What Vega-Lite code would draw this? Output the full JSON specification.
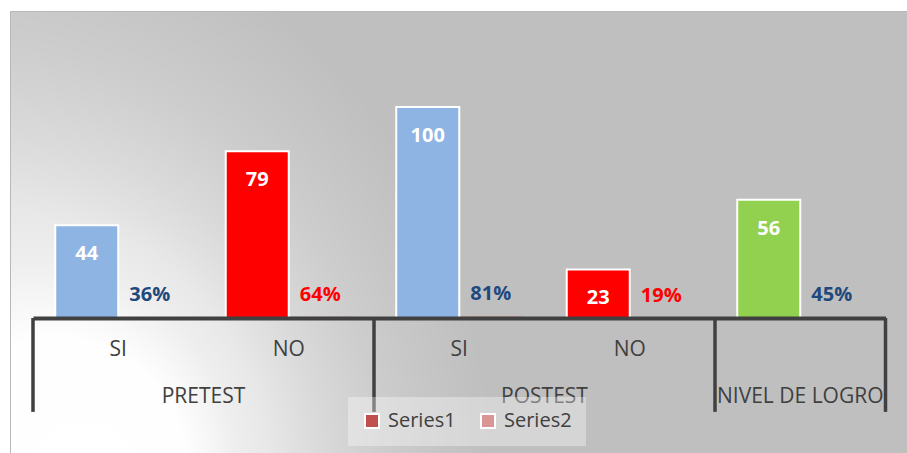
{
  "$schema": "https://vega.github.io/schema/vega-lite/v6.json",
  "width": 897,
  "height": 442,
  "autosize": {"type": "none"},
  "padding": {"left": 10, "top": 11, "right": 0, "bottom": 0},
  "background": "white",
  "config": {
    "view": {
      "fill": {"gradient": "radial", "x1": 0.1003, "y1": 0.7664, "r1": 0, "x2": -0.1338, "y2": 0.7664, "r2": 0.669,
        "stops": [
          {"offset": 0, "color": "#ffffff"},
          {"offset": 0.22, "color": "#fefefe"},
          {"offset": 0.28, "color": "#f7f7f7"},
          {"offset": 0.35, "color": "#eeeeee"},
          {"offset": 0.43, "color": "#e8e8e8"},
          {"offset": 0.5, "color": "#e0e0e0"},
          {"offset": 0.56, "color": "#dadada"},
          {"offset": 0.63, "color": "#d4d4d4"},
          {"offset": 0.72, "color": "#cdcdcd"},
          {"offset": 0.83, "color": "#c7c7c7"},
          {"offset": 1, "color": "#bfbfbf"}
        ]},
      "stroke": "#b8b8b8"
    },
    "font": "Open Sans",
    "legend": {
      "orient": "none",
      "legendX": 338,
      "legendY": 386,
      "direction": "horizontal",
      "fillColor": "rgba(255,255,255,0.35)",
      "padding": 14,
      "labelFont": "Open Sans",
      "labelFontSize": 20,
      "labelColor": "#404040",
      "symbolType": "square",
      "symbolSize": 196,
      "symbolStrokeColor": "white",
      "symbolStrokeWidth": 2,
      "columnPadding": 21,
      "labelOffset": 6
    }
  },
  "data": {"values": [
    {"group": "PRETEST", "cat": "SI", "slot": "PRETEST SI", "series": "Series1", "value": 44},
    {"group": "PRETEST", "cat": "NO", "slot": "PRETEST NO", "series": "Series1", "value": 79},
    {"group": "POSTEST", "cat": "SI", "slot": "POSTEST SI", "series": "Series1", "value": 100},
    {"group": "POSTEST", "cat": "NO", "slot": "POSTEST NO", "series": "Series1", "value": 23},
    {"group": "NIVEL DE LOGRO", "cat": "", "slot": "NIVEL DE LOGRO", "series": "Series1", "value": 56},
    {"group": "PRETEST", "cat": "SI", "slot": "PRETEST SI", "series": "Series2", "value": 0.36},
    {"group": "PRETEST", "cat": "NO", "slot": "PRETEST NO", "series": "Series2", "value": 0.64},
    {"group": "POSTEST", "cat": "SI", "slot": "POSTEST SI", "series": "Series2", "value": 0.81},
    {"group": "POSTEST", "cat": "NO", "slot": "POSTEST NO", "series": "Series2", "value": 0.19},
    {"group": "NIVEL DE LOGRO", "cat": "", "slot": "NIVEL DE LOGRO", "series": "Series2", "value": 0.45}
  ]},
  "layer": [
    {
      "transform": [{"filter": "datum.series == 'Series2'"}],
      "mark": {"type": "bar"},
      "encoding": {
        "x": {"field": "slot", "type": "nominal",
          "scale": {"domain": ["PRETEST SI", "PRETEST NO", "POSTEST SI", "POSTEST NO", "NIVEL DE LOGRO"], "range": [23, 875.5], "paddingInner": 0, "paddingOuter": 0},
          "axis": {"domain": true, "domainColor": "#404040", "domainWidth": 4, "labels": false, "ticks": false, "title": null, "grid": false, "offset": -135, "zindex": 1}},
        "xOffset": {"field": "series", "type": "nominal", "scale": {"domain": ["Series1", "Series2"], "paddingOuter": 0.353, "paddingInner": 0}},
        "y": {"field": "value", "type": "quantitative", "scale": {"domain": [0, 100], "range": [307, 96], "nice": false}, "axis": null},
        "color": {"field": "series", "type": "nominal", "scale": {"domain": ["Series1", "Series2"], "range": ["#c0504d", "#d99694"]}, "legend": {"title": null}}
      }
    },
    {
      "transform": [{"filter": "datum.series == 'Series1'"}],
      "mark": {"type": "bar", "stroke": "white", "strokeWidth": 2},
      "encoding": {
        "x": {"field": "slot", "type": "nominal"},
        "xOffset": {"field": "series", "type": "nominal"},
        "y": {"field": "value", "type": "quantitative"},
        "fill": {"field": "cat", "type": "nominal", "scale": {"domain": ["SI", "NO", ""], "range": ["#8db4e2", "#ff0000", "#92d050"]}, "legend": null}
      }
    },
    {
      "transform": [{"filter": "datum.series == 'Series1'"}],
      "mark": {"type": "text", "fontWeight": "bold", "fontSize": 20, "fill": "white", "baseline": "middle", "dy": 29},
      "encoding": {
        "x": {"field": "slot", "type": "nominal"},
        "xOffset": {"field": "series", "type": "nominal"},
        "y": {"field": "value", "type": "quantitative"},
        "text": {"field": "value", "type": "quantitative"}
      }
    },
    {
      "transform": [{"filter": "datum.series == 'Series2'"}],
      "mark": {"type": "text", "fontWeight": "bold", "fontSize": 20, "baseline": "middle", "dy": -22},
      "encoding": {
        "x": {"field": "slot", "type": "nominal"},
        "xOffset": {"field": "series", "type": "nominal"},
        "y": {"field": "value", "type": "quantitative"},
        "text": {"field": "value", "type": "quantitative", "format": ".0%"},
        "color": {"condition": {"test": "datum.cat == 'NO'", "value": "#ff0000"}, "value": "#1f497d"}
      }
    },
    {
      "transform": [{"filter": "datum.series == 'Series1' && datum.cat != ''"}],
      "mark": {"type": "text", "fontSize": 21, "fill": "#404040", "baseline": "middle"},
      "encoding": {
        "x": {"field": "slot", "type": "nominal"},
        "y": {"datum": -15.2},
        "text": {"field": "cat"}
      }
    },
    {
      "transform": [{"filter": "datum.series == 'Series1' && datum.cat == 'NO'"}],
      "mark": {"type": "text", "fontSize": 21, "fill": "#404040", "baseline": "middle"},
      "encoding": {
        "x": {"field": "slot", "type": "nominal", "bandPosition": 0},
        "y": {"datum": -37.4},
        "text": {"field": "group"}
      }
    },
    {
      "transform": [{"filter": "datum.series == 'Series1' && datum.cat == ''"}],
      "mark": {"type": "text", "fontSize": 21, "fill": "#404040", "baseline": "middle"},
      "encoding": {
        "x": {"field": "slot", "type": "nominal"},
        "y": {"datum": -37.4},
        "text": {"field": "group"}
      }
    },
    {
      "transform": [{"filter": "datum.series == 'Series1' && (datum.cat == 'SI' || datum.cat == '')"}],
      "mark": {"type": "rule", "stroke": "#404040", "strokeWidth": 3.5},
      "encoding": {
        "x": {"field": "slot", "type": "nominal", "bandPosition": 0},
        "y": {"datum": 0},
        "y2": {"datum": -44.5}
      }
    },
    {
      "transform": [{"filter": "datum.series == 'Series1' && datum.cat == ''"}],
      "mark": {"type": "rule", "stroke": "#404040", "strokeWidth": 3.5},
      "encoding": {
        "x": {"field": "slot", "type": "nominal", "bandPosition": 1},
        "y": {"datum": 0},
        "y2": {"datum": -44.5}
      }
    }
  ]
}
